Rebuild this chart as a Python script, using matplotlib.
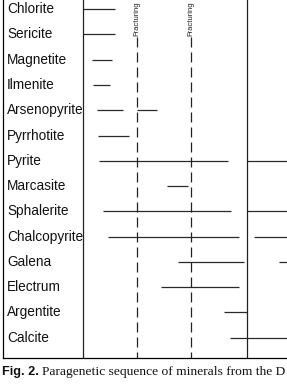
import matplotlib.pyplot as plt

# minerals, top to bottom
minerals = ['Chlorite', 'Sericite', 'Magnetite', 'Ilmenite', 'Arsenopyrite',
            'Pyrrhotite', 'Pyrite', 'Marcasite', 'Sphalerite', 'Chalcopyrite',
            'Galena', 'Electrum', 'Argentite', 'Calcite']

# relative time of deposition, (start, end) for each segment
periods = [
    [(0, 32)],
    [(0, 32)],
    [(9, 29)],
    [(10, 27)],
    [(14, 40), (54, 74)],
    [(15, 46)],
    [(16, 145), (164, 215)],
    [(84, 105)],
    [(20, 148), (164, 215)],
    [(25, 156), (171, 215)],
    [(95, 161), (196, 215)],
    [(78, 156)],
    [(141, 164)],
    [(147, 215)],
]

fracturing = [54, 108]   # fracturing events
stage_break = 164        # end of first stage

W, H = 287, 384
fig = plt.figure(figsize=(W / 100, H / 100), dpi=100)
ax = fig.add_axes([3 / W, (H - 358) / H, 284 / W, 358 / H])
ax.set_xlim(-80, 204)
ax.set_ylim(13.8, -0.36)

for i, segs in enumerate(periods):
    for s, e in segs:
        ax.plot([s, e], [i, i], color='#2a2a2a', lw=0.9, solid_capstyle='butt')

for i, name in enumerate(minerals):
    ax.text(-76, i, name, ha='left', va='center', fontsize=9.8,
            family='Liberation Sans', color='#111111')

ax.axvline(0, color='#222222', lw=0.9)
ax.axvline(stage_break, color='#222222', lw=0.9)
for fx in fracturing:
    ax.plot([fx, fx], [1.1, 13.8], color='#222222', lw=0.9, dashes=(8, 4))
    ax.text(fx, 1.08, 'Fracturing', rotation=90, ha='center', va='bottom',
            fontsize=5.5, family='Liberation Sans', color='#222222')

for side in ['top', 'right']:
    ax.spines[side].set_visible(False)
ax.spines['left'].set_linewidth(0.9)
ax.spines['bottom'].set_linewidth(0.9)
ax.set_xticks([])
ax.set_yticks([])

fig.text(2 / W, 1 - 372 / H, 'Fig. 2.', ha='left', va='center', fontsize=9.2,
         family='Liberation Sans', weight='bold', color='#111111')
fig.text(42 / W, 1 - 372 / H, 'Paragenetic sequence of minerals from the D',
         ha='left', va='center', fontsize=9.7, family='Liberation Serif',
         color='#111111')

fig.savefig('out.png', dpi=100)
